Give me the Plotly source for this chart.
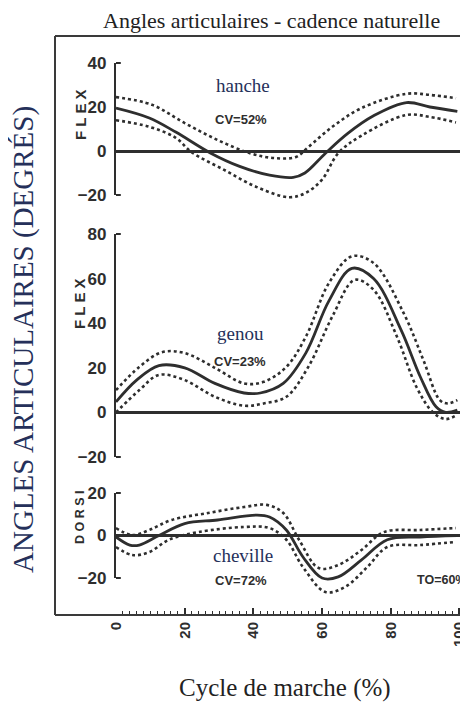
import plotly.graph_objects as go

# ---------------- data ----------------
# Hip (hanche)
hip_mean_x = [0, 9.7, 17.4, 27.6, 36, 44.7, 51.6, 55, 61, 67.5, 75, 84.6, 91.4, 99.4]
hip_mean_y = [19.5, 15, 8.6, -1, -7, -11, -12, -10, -1, 8, 16, 22, 20, 18]
hip_up_x = [0, 10.5, 20, 29.6, 39, 46, 52.4, 56, 63, 71.5, 84.6, 91.4, 99]
hip_up_y = [24.5, 21, 12.7, 5, -1, -3.2, -2.7, 1.8, 11, 19.5, 26, 25.5, 24]
hip_lo_x = [0, 9.7, 17.4, 22, 31.5, 41, 50.4, 55.3, 60, 64.7, 71.5, 84.6, 91.4, 99]
hip_lo_y = [14, 11, 6, -0.5, -8.6, -16.4, -21, -19, -13, -1, 7, 16.4, 15.5, 13]

# Knee (genou)
knee_mean_x = [0, 6, 12.5, 20, 28.8, 37.3, 42, 48.7, 55.3, 62, 68.7, 75, 83, 88.6, 93.2, 96, 99.4]
knee_mean_y = [4.7, 14.5, 21, 20, 13, 8.7, 8.7, 13, 26.7, 50, 64.6, 60, 37, 16, 2.5, 0, 1]
knee_up_x = [0, 6.8, 13.4, 20, 28.8, 37.3, 43, 49.6, 55.3, 62, 68.7, 75, 83.8, 89.5, 94.3, 96.6, 99.4]
knee_up_y = [10, 20.4, 27, 26.6, 20, 13, 13.7, 20.4, 34, 58, 70, 67, 44.4, 23.5, 5.5, 4, 5.5]
knee_lo_x = [0, 6.8, 12.5, 20, 28.8, 37.3, 43, 49.6, 56, 63, 69.5, 75, 81.8, 87.5, 92.3, 96, 99.4]
knee_lo_y = [0, 10, 16.8, 14.5, 7, 3, 4, 7, 20.4, 43, 59.4, 55, 34, 11.4, 0, -3, -1]

# Ankle (cheville)
ank_mean_x = [0, 4, 6.8, 12.5, 20, 29.6, 41, 44.7, 49.6, 54.4, 60, 64.7, 71.5, 79, 88.6, 99.4]
ank_mean_y = [-0.7, -4.5, -4.5, 0, 5.6, 7.3, 9.6, 8.7, 2.6, -10, -20, -19.5, -11.5, -2, -0.7, 0]
ank_up_x = [0, 4.8, 9.7, 16.2, 26.8, 37.3, 43.9, 48.7, 53.3, 59, 64.7, 71.5, 78, 88.6, 99]
ank_up_y = [3.5, 0.2, 2.6, 7.3, 10.6, 13.4, 14.4, 10.6, -2, -15.3, -13.9, -6.8, 1.6, 2.6, 3.5]
ank_lo_x = [0, 4.8, 9.7, 15.4, 24, 37.3, 44.7, 49.6, 54.4, 61, 66.7, 73.2, 79, 88.6, 99]
ank_lo_y = [-5.4, -9.2, -7.8, -2, 1.6, 4, 3.5, -2, -14.8, -26.6, -24.2, -14.8, -5.4, -4.5, -3]

x_ticks = [0, 20, 40, 60, 80, 100]
hip_ticks = [-20, 0, 20, 40]
knee_ticks = [-20, 0, 20, 40, 60, 80]
ank_ticks = [-20, 0, 20]

joint_names = ["hanche", "genou", "cheville"]
cv_labels = ["CV=52%", "CV=23%", "CV=72%"]
side_labels = ["F L E X", "F L E X", "D O R S I"]
to_label = "TO=60%"
title_text = "Angles articulaires - cadence naturelle"
x_title = "Cycle de marche (%)"
y_title = "ANGLES ARTICULAIRES (DEGRÉS)"

# ---------------- layout helpers ----------------
WIN_W, WIN_H = 468, 702
OFF = 8                      # page body margin
W, H = WIN_W - OFF, WIN_H - OFF
def px(xp):
    return (xp - OFF) / W
def py(yp):
    return 1 - (yp - OFF) / H

INK = "#2e2e2e"
NAVY = "#25305a"
COND = "Liberation Sans, Arial, sans-serif"
SERIF = "Liberation Serif, DejaVu Serif, serif"

# visible axis pixel geometry: (ticks, top px, bottom px, data-axis extension top / bottom)
panels = [
    (hip_ticks, 63, 195, 20, 20),
    (knee_ticks, 234, 457, 20, 20),
    (ank_ticks, 493, 578, 12, 32),
]

fig = go.Figure()

series = [
    (hip_mean_x, hip_mean_y, hip_up_x, hip_up_y, hip_lo_x, hip_lo_y),
    (knee_mean_x, knee_mean_y, knee_up_x, knee_up_y, knee_lo_x, knee_lo_y),
    (ank_mean_x, ank_mean_y, ank_up_x, ank_up_y, ank_lo_x, ank_lo_y),
]

layout_axes = {}
shapes = []
for i, (ticks, top_py, bot_py, ext_t, ext_b) in enumerate(panels):
    vis = "yaxis" if i == 0 else f"yaxis{i+1}"
    vis_ref = "y" if i == 0 else f"y{i+1}"
    dat_idx = i + 4
    dat_name = f"yaxis{dat_idx}"
    dat_ref = f"y{dat_idx}"
    lo, hi = ticks[0], ticks[-1]
    scale = (bot_py - top_py) / (hi - lo)
    layout_axes[vis] = dict(
        domain=[py(bot_py), py(top_py)], range=[lo, hi], type="linear",
        anchor="x", showline=True, linecolor=INK, linewidth=2.2,
        tickvals=ticks, ticks="outside", ticklen=4, tickcolor="rgba(0,0,0,0)",
        tickfont=dict(family=COND, size=17, color=INK, weight="bold"),
        showgrid=False, zeroline=True, zerolinecolor=INK, zerolinewidth=2.6,
        fixedrange=True,
    )
    layout_axes[dat_name] = dict(
        domain=[py(bot_py + ext_b), py(top_py - ext_t)],
        range=[lo - ext_b / scale, hi + ext_t / scale], type="linear",
        anchor="x", visible=False, showgrid=False, zeroline=False,
    )
    # invisible helper so the visible axis is drawn
    fig.add_trace(go.Scatter(x=[0, 0], y=[lo, hi], yaxis=vis_ref, mode="markers",
                             marker=dict(opacity=0), hoverinfo="skip"))
    mx, my, ux, uy, lx, ly = series[i]
    fig.add_trace(go.Scatter(x=ux, y=uy, mode="lines", yaxis=dat_ref,
                             line=dict(color=INK, width=2.6, dash="dot", shape="spline", smoothing=1.0)))
    fig.add_trace(go.Scatter(x=lx, y=ly, mode="lines", yaxis=dat_ref,
                             line=dict(color=INK, width=2.6, dash="dot", shape="spline", smoothing=1.0)))
    fig.add_trace(go.Scatter(x=mx, y=my, mode="lines", yaxis=dat_ref,
                             line=dict(color=INK, width=2.8, shape="spline", smoothing=1.0)))
    # end hooks of the vertical axis
    for v in (lo, hi):
        shapes.append(dict(type="line", xref="x", yref=dat_ref, x0=0, x1=1.4, y0=v, y1=v,
                           line=dict(color=INK, width=2)))

# frame (left, top, bottom)
frame = dict(color="#3a3a3a", width=2)
shapes.append(dict(type="line", xref="paper", yref="paper", x0=px(55), x1=1.0, y0=py(36), y1=py(36), line=frame))
shapes.append(dict(type="line", xref="paper", yref="paper", x0=px(55), x1=px(55), y0=py(36), y1=py(615), line=frame))
shapes.append(dict(type="line", xref="paper", yref="paper", x0=px(55), x1=1.0, y0=py(615), y1=py(615), line=frame))

annotations = []
def ann(text, x, y, size, family, color=INK, angle=0, xanchor="center", bold=False):
    annotations.append(dict(text=text, x=px(x), y=py(y), xref="paper", yref="paper",
                            showarrow=False, textangle=angle, xanchor=xanchor, yanchor="middle",
                            borderpad=0,
                            font=dict(family=family, size=size, color=color,
                                      weight="bold" if bold else "normal")))

ann(title_text, 271, 21, 22, SERIF, color="#222")
ann(x_title, 285, 688, 25, SERIF, color="#222")
ann(y_title, 24, 340, 29, SERIF, color=NAVY, angle=-90)

name_pos = [(243, 86), (240, 333), (243, 555)]
cv_pos = [(241, 119), (240, 362), (241, 580)]
side_pos = [(80, 115), (80, 304), (80, 518)]
side_sizes = [15, 15, 12.5]
for i in range(3):
    ann(joint_names[i], name_pos[i][0], name_pos[i][1], 19, SERIF, color=NAVY)
    ann(cv_labels[i], cv_pos[i][0], cv_pos[i][1], 13, COND, bold=True)
    ann(side_labels[i], side_pos[i][0], side_pos[i][1], side_sizes[i], COND, angle=-90, bold=True)
ann(to_label, 467, 580, 12.5, COND, xanchor="right", bold=True)

fig.update_layout(
    width=W, height=H, autosize=False,
    margin=dict(l=0, r=0, t=0, b=0, autoexpand=False),
    paper_bgcolor="white", plot_bgcolor="rgba(0,0,0,0)",
    showlegend=False,
    xaxis=dict(domain=[px(116), 1.0], range=[0, 102.5], anchor="free", position=py(615),
               showline=True, linecolor=INK, linewidth=2,
               tickvals=x_ticks, ticks="inside", ticklen=6, tickwidth=1.6, tickcolor=INK,
               minor=dict(dtick=2, tick0=0, ticks="inside", ticklen=3, tickwidth=1.2, tickcolor=INK),
               tickangle=-90, tickfont=dict(family=COND, size=15, color=INK, weight="bold"),
               ticklabeloverflow="allow",
               showgrid=False, zeroline=False, fixedrange=True),
    shapes=shapes,
    annotations=annotations,
    **layout_axes,
)

fig.write_html("out.html")
